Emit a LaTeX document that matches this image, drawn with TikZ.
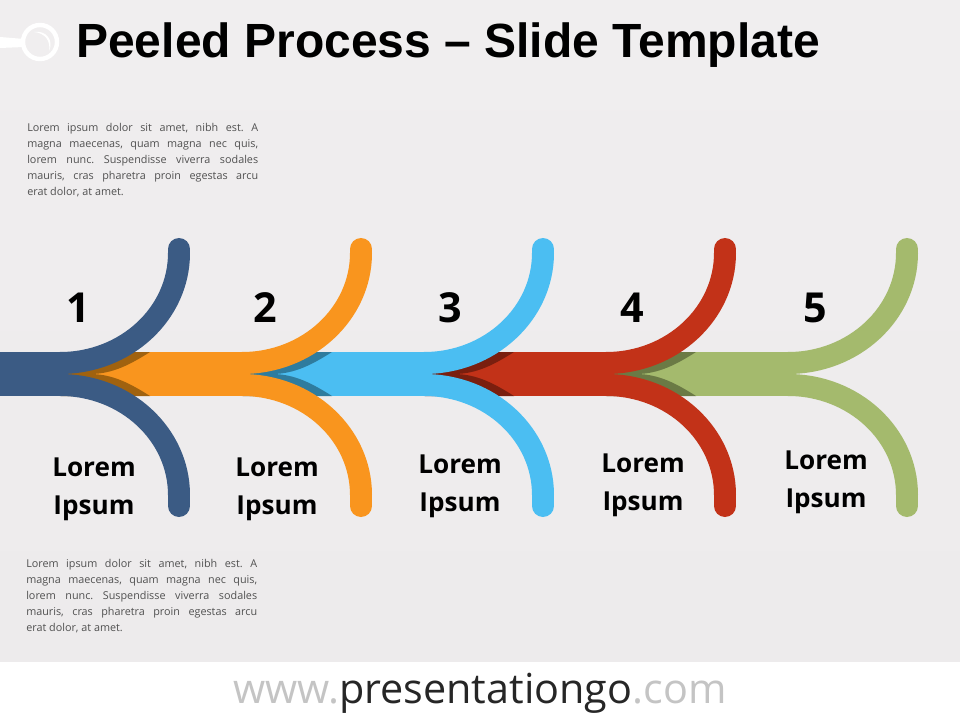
\documentclass[tikz,border=0pt]{standalone}
\usepackage{fontspec}
\setmainfont{Open Sans}
\newfontfamily\lab{Open Sans}
\newfontfamily\titlef{Liberation Sans}
\definecolor{cA}{HTML}{3B5B84}
\definecolor{cB}{HTML}{F9951E}
\definecolor{cC}{HTML}{4BBEF2}
\definecolor{cD}{HTML}{C23218}
\definecolor{cE}{HTML}{A4BA6D}
\definecolor{dB}{HTML}{A0620F}
\definecolor{dC}{HTML}{2F7C9E}
\definecolor{dD}{HTML}{7A1F0F}
\definecolor{dE}{HTML}{6B7A45}
\definecolor{bgA}{HTML}{F0EEEF}
\definecolor{bgB}{HTML}{EDEBEC}
\definecolor{txt}{HTML}{505050}
\frenchspacing
\tikzset{
  x=0.75pt,y=-0.75pt,
  numlab/.style={font=\lab\bfseries\fontsize{31}{33}\selectfont,text=black,anchor=center,inner sep=0},
  steplab/.style={font=\lab\fontsize{19.6}{28.5}\selectfont\bfseries,text=black,align=center,anchor=center,inner sep=0},
  para/.style={font=\fontsize{8.1}{12}\selectfont,text=txt,align=left,anchor=north west,inner sep=0},
  armline/.style={line width=16.5pt},
  capline/.style={line width=16.5pt,line cap=round},
}
\newcommand{\jl}[1]{\makebox[173.2pt][s]{#1}}
\newcommand{\ptext}{\jl{Lorem ipsum dolor sit amet, nibh est. A}\\\jl{magna maecenas, quam magna nec quis,}\\\jl{lorem nunc. Suspendisse viverra sodales}\\\jl{mauris, cras pharetra proin egestas arcu}\\erat dolor, at amet.}
% #1 nominal tip x, #2 colour, #3 band left x
\newcommand{\armset}[3]{%
  \fill[#2] (#3,352) rectangle (#1-8,396);
  \draw[capline,#2] (#1+110,249) -- (#1+110,253);
  \draw[capline,#2] (#1+110,506) -- (#1+110,495);
  \draw[armline,#2] (#1-9,363) arc[start angle=90,end angle=0,x radius=119,y radius=110];
  \draw[armline,#2] (#1-9,385) arc[start angle=-90,end angle=0,x radius=119,y radius=110];
}
% #1 nominal tip x of the step casting the shadow, #2 shadow colour
\newcommand{\shadowset}[2]{%
  \fill[#2] (#1-8,352) -- (#1+81,352) .. controls (#1+62,364) and (#1+44,374) .. (#1+21,374)
     .. controls (#1+44,374) and (#1+62,384) .. (#1+81,396) -- (#1-8,396) -- cycle;
}
\begin{document}
\begin{tikzpicture}
\useasboundingbox (0,0) rectangle (960,720);
\fill[white] (0,0) rectangle (960,720);
\shade[top color=bgA,bottom color=bgB] (0,0) rectangle (960,661);
% pin
\fill[white] (0,37) -- (24,39) -- (24,47) -- (0,48) -- cycle;
\draw[white,line width=3.3pt,fill=bgA] (40,42) circle[radius=17];
\fill[white] (34,32) .. controls (46,30) and (54,40) .. (49,51) .. controls (51,41) and (45,33) .. (34,32) -- cycle;
% steps, right to left
\armset{797}{cE}{600}
\shadowset{615}{dE}
\armset{615}{cD}{420}
\shadowset{433}{dD}
\armset{433}{cC}{240}
\shadowset{251}{dC}
\armset{251}{cB}{60}
\shadowset{69}{dB}
\armset{69}{cA}{0}
% texts
\node[anchor=base west,inner sep=0,font=\titlef\bfseries\fontsize{36}{38}\selectfont,text=black] (title) at (76,58) {Peeled Process – Slide Template};
\node[para,align=left] (p1) at (27,123) {\ptext};
\node[para,align=left] (p2) at (26,559) {\ptext};
\node[numlab] (n1) at (78,308) {1};
\node[numlab] (n2) at (265,308) {2};
\node[numlab] (n3) at (450,308) {3};
\node[numlab] (n4) at (632,308) {4};
\node[numlab] (n5) at (815,308) {5};
\node[steplab] (l1) at (94,489) {Lorem\\Ipsum};
\node[steplab] (l2) at (277,489) {Lorem\\Ipsum};
\node[steplab] (l3) at (460,486) {Lorem\\Ipsum};
\node[steplab] (l4) at (643,485) {Lorem\\Ipsum};
\node[steplab] (l5) at (826,482) {Lorem\\Ipsum};
\node[inner sep=0,font=\lab\fontsize{31}{33}\selectfont,anchor=base] (web) at (480,703) {\textcolor[HTML]{C4C4C4}{www.}\textcolor[HTML]{262626}{presentationgo}\textcolor[HTML]{C4C4C4}{.com}};
\end{tikzpicture}
\end{document}
